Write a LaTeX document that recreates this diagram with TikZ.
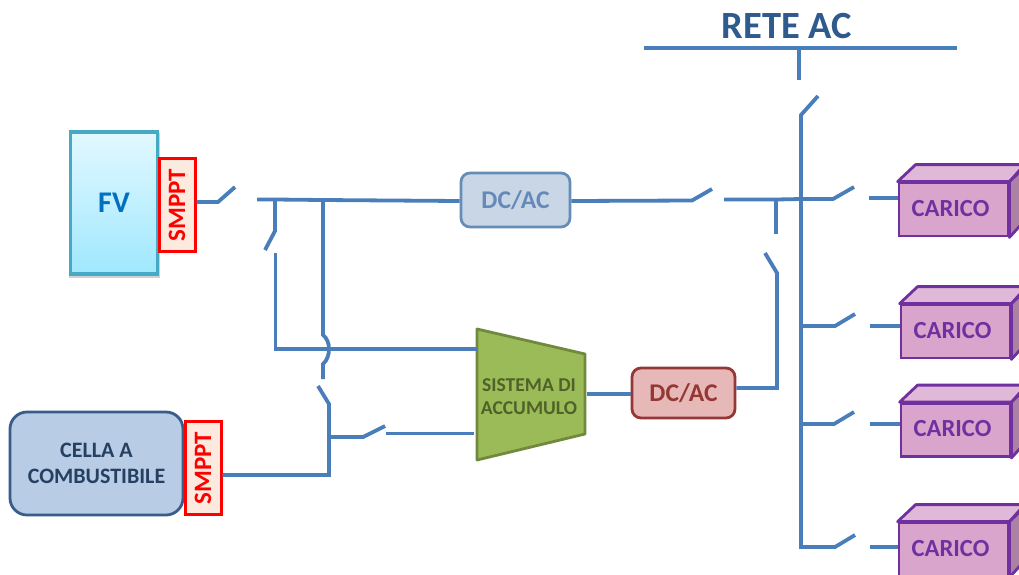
\documentclass[tikz,border=0pt]{standalone}
\usepackage{fontspec}
\setmainfont{Carlito}
\usetikzlibrary{calc,shadows}
\definecolor{wire}{HTML}{4A7EBB}
\definecolor{title}{HTML}{2F5A8E}
\definecolor{cubeline}{HTML}{7030A0}
\definecolor{cubefront}{HTML}{D9A5CC}
\definecolor{cubetop}{HTML}{E1B9D8}
\definecolor{cubeside}{HTML}{AB82A3}
\tikzset{
  wireline/.style={draw=wire,line width=3.8pt,line join=miter},
  smppt/.style={inner sep=0pt,draw=red,fill={rgb,255:red,253;green,234;blue,222},line width=3pt,text=red,rotate=90,font=\bfseries\fontsize{25}{25}\selectfont,minimum height=36pt,minimum width=93pt},
  cubebox/.style={inner sep=0pt,draw=cubeline,fill=cubefront,line width=2.8pt,minimum width=109pt,minimum height=53pt},
  cubetext/.style={inner sep=0pt,text=cubeline,font=\bfseries\fontsize{24.6}{24.6}\selectfont}
}
\newcommand{\caricobox}[3]{%
  \node[cubebox] (#1) at (#2,#3) {};
  \draw[cubeline,line width=2.8pt,fill=cubetop,line join=round] (#1.north west) -- ++(18,-17) -- ++(109,0) -- (#1.north east) -- cycle;
  \draw[cubeline,line width=2.8pt,fill=cubeside,line join=round] (#1.north east) -- ++(18,-17) -- ++(0,53) -- (#1.south east) -- cycle;
  \node[cubetext] (#1t) at ($(#1.center)+(-3,-1)$) {CARICO};
}
\begin{document}
\begin{tikzpicture}[x=1pt,y=-1pt]
\clip (0,0) rectangle (1019,574);
\fill[white] (0,0) rectangle (1019,574);

% free ends of switches and junctions
\coordinate (fvA) at (218,202); \coordinate (fvB) at (235,187);
\coordinate (dcStart) at (257,199.5);
\coordinate (j1) at (275,199.5); \coordinate (j2) at (323,200);
\coordinate (s1a) at (275,231); \coordinate (s1b) at (265,250);
\coordinate (s1c) at (275.5,253); \coordinate (s1d) at (275.5,349);
\coordinate (h1) at (323,335); \coordinate (h2) at (323,364);
\coordinate (h3) at (323,379);
\coordinate (s2a) at (318,386); \coordinate (s2b) at (329,404); \coordinate (s2c) at (329,475);
\coordinate (j3) at (329,437); \coordinate (s3a) at (363,437); \coordinate (s3b) at (385,426);
\coordinate (s3c) at (386,433.5);
\coordinate (s4a) at (692,200.5); \coordinate (s4b) at (712,189);
\coordinate (s4c) at (724,199.5); \coordinate (j4) at (776,199.5);
\coordinate (s5a) at (776,234); \coordinate (s5b) at (765,253); \coordinate (s5c) at (777,273);
\coordinate (s5d) at (777,388);
\coordinate (busTop) at (801,115); \coordinate (busBlade) at (818,96);
\coordinate (busEnd) at (801,547);
\coordinate (gridA) at (799,48); \coordinate (gridB) at (799,80);
\coordinate (gridL) at (644,48); \coordinate (gridR) at (957,48);
\coordinate (b1) at (801,199); \coordinate (b1a) at (833,199); \coordinate (b1b) at (854,187); \coordinate (b1c) at (869,198);
\coordinate (b2) at (801,326); \coordinate (b2a) at (835,326); \coordinate (b2b) at (855,314); \coordinate (b2c) at (870,326);
\coordinate (b3) at (801,424); \coordinate (b3a) at (834,424); \coordinate (b3b) at (854,412); \coordinate (b3c) at (870,424);
\coordinate (b4a) at (835,547); \coordinate (b4b) at (855,535); \coordinate (b4c) at (870,547);

% blocks
\fill[black,opacity=.18] (69,133) rectangle (160,278);
\node[inner sep=0pt,draw={rgb,255:red,70;green,170;blue,197},line width=3.2pt,
  top color={rgb,255:red,226;green,248;blue,255},bottom color={rgb,255:red,160;green,232;blue,254},
  minimum width=87pt,minimum height=142pt,
  text={rgb,255:red,0;green,112;blue,192},font=\bfseries\fontsize{30}{30}\selectfont] (fv) at (114,203) {FV};
\node[smppt] (sm1) at (177,205) {SMPPT};
\node[draw={rgb,255:red,56;green,93;blue,138},fill={rgb,255:red,184;green,205;blue,229},line width=2.8pt,rounded corners=17pt,
  inner sep=0pt,minimum width=173pt,minimum height=103pt,align=center,
  text={rgb,255:red,38;green,64;blue,97},font=\bfseries\fontsize{22}{26}\selectfont] (fc) at (96.5,463.5) {CELLA A\\COMBUSTIBILE};
\node[smppt] (sm2) at (203,468) {SMPPT};
\node[draw={rgb,255:red,102;green,141;blue,184},fill={rgb,255:red,200;green,214;blue,230},line width=2.8pt,rounded corners=9pt,
  inner sep=0pt,minimum width=109pt,minimum height=54pt,
  text={rgb,255:red,101;green,137;blue,184},font=\bfseries\fontsize{25.5}{25.5}\selectfont] (dc1) at (515.5,200) {DC/AC};
\node[draw={rgb,255:red,149;green,55;blue,53},fill={rgb,255:red,230;green,184;blue,183},line width=2.8pt,rounded corners=9pt,
  inner sep=0pt,minimum width=103pt,minimum height=50pt,
  text={rgb,255:red,149;green,55;blue,53},font=\bfseries\fontsize{25.5}{25.5}\selectfont] (dc2) at (683.5,393) {DC/AC};
\coordinate (t1) at (477,329); \coordinate (t2) at (585,354); \coordinate (t3) at (585,434); \coordinate (t4) at (477,460);
\draw[draw={rgb,255:red,113;green,137;blue,61},fill={rgb,255:red,155;green,187;blue,89},line width=2.8pt,line join=round] (t1) -- (t2) -- (t3) -- (t4) -- cycle;
\node[inner sep=0pt,align=center,text={rgb,255:red,79;green,98;blue,40},font=\bfseries\fontsize{19.6}{23}\selectfont] (acc) at (529,397) {SISTEMA DI\\ACCUMULO};
\caricobox{c1}{953.5}{209.5}
\caricobox{c2}{955.5}{331.5}
\caricobox{c3}{955.5}{430}
\caricobox{c4}{953.5}{549.5}
\node[inner sep=0pt,text=title,font=\bfseries\fontsize{38.5}{38.5}\selectfont] (rete) at (787,26) {RETE AC};

% connectors
\draw[wireline] (sm1.south |- fvA) -- (fvA) -- (fvB);
\draw[wireline] (dcStart) -- (j1) -- (j2) -- (dc1.west |- 0,201);
\draw[wireline] (j1) -- (s1a) -- (s1b);
\draw[wireline] (s1c) -- (s1d) -- (t1 |- s1d);
\draw[wireline] (j2) -- (h1) .. controls (331,341) and (331,357) .. (h2) -- (h3);
\draw[wireline] (s2a) -- (s2b) -- (s2c) -- (sm2.south |- s2c);
\draw[wireline] (j3) -- (s3a) -- (s3b);
\draw[wireline] (s3c) -- (474,433.5);
\draw[wireline] (587,394) -- (dc2.west |- 0,394);
\draw[wireline] (dc1.east |- 0,201) -- (s4a) -- (s4b);
\draw[wireline] (s4c) -- (j4) -- (b1) -- (b1a) -- (b1b);
\draw[wireline] (j4) -- (s5a);
\draw[wireline] (s5b) -- (s5c) -- (s5d) -- (dc2.east |- s5d);
\draw[wireline] (gridL) -- (gridR);
\draw[wireline] (gridA) -- (gridB);
\draw[wireline] (busBlade) -- (busTop) -- (busEnd) -- (b4a) -- (b4b);
\draw[wireline] (b2) -- (b2a) -- (b2b);
\draw[wireline] (b3) -- (b3a) -- (b3b);
\draw[wireline] (b1c) -- (c1.west |- b1c);
\draw[wireline] (b2c) -- (c2.west |- b2c);
\draw[wireline] (b3c) -- (c3.west |- b3c);
\draw[wireline] (b4c) -- (c4.west |- b4c);
\end{tikzpicture}
\end{document}
